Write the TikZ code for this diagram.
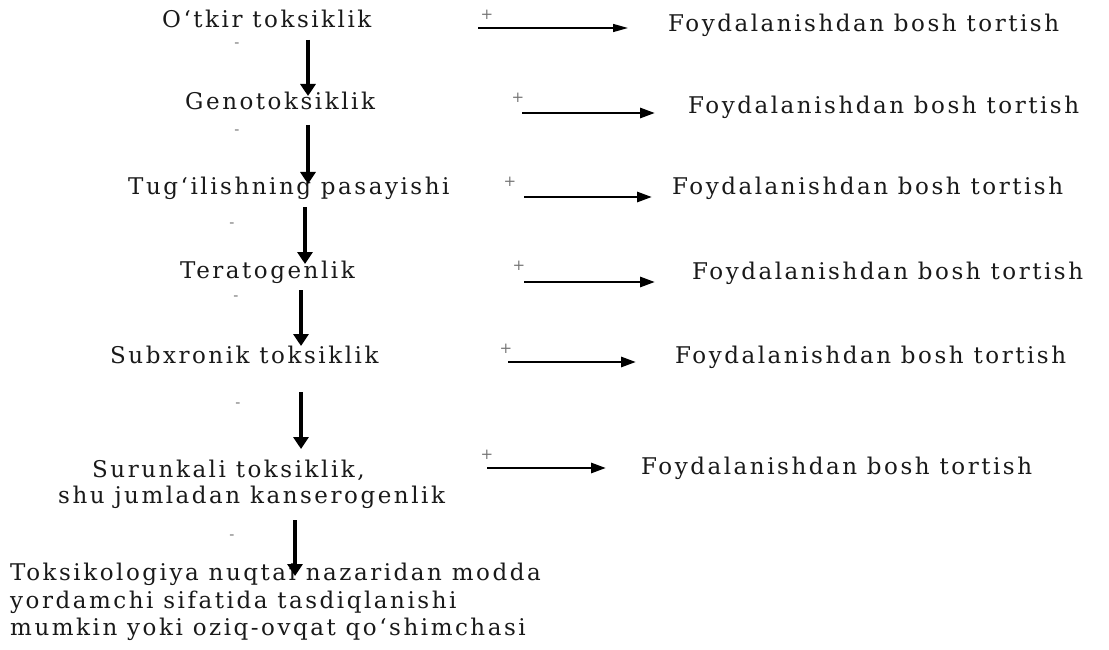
\documentclass[tikz,border=0pt]{standalone}
\usepackage{fontspec}
\setmainfont[LetterSpace=11]{DejaVu Serif}
\usetikzlibrary{arrows.meta}
\begin{document}
\begin{tikzpicture}[x=1pt,y=-1pt,
  lbl/.style={anchor=base west,inner sep=0pt,font=\fontsize{23}{28}\selectfont,text=black!90},
  sgn/.style={inner sep=0pt,font=\fontsize{15}{15}\selectfont,text=black!55},
  down/.style={line width=3.6pt,-{Triangle[length=12pt,width=15pt]}},
  right/.style={line width=2.8pt,-{Triangle[length=15pt,width=10pt]}},
  thin right/.style={line width=1.4pt,-{Triangle[length=15pt,width=8pt]}}]
\useasboundingbox (0,0) rectangle (1109,650);
% left column
\node[lbl] (l1) at (162,28) {O‘tkir toksiklik};
\node[lbl] (l2) at (185,110) {Genotoksiklik};
\node[lbl] (l3) at (128,195) {Tug‘ilishning pasayishi};
\node[lbl] (l4) at (180,278) {Teratogenlik};
\node[lbl] (l5) at (110,363) {Subxronik toksiklik};
\node[lbl] (l6a) at (92,477) {Surunkali toksiklik,};
\node[lbl] (l6b) at (58,503) {shu jumladan kanserogenlik};
\node[lbl] (l7a) at (10,580) {Toksikologiya nuqtai nazaridan modda};
\node[lbl] (l7b) at (10,608) {yordamchi sifatida tasdiqlanishi};
\node[lbl] (l7c) at (10,635) {mumkin yoki oziq-ovqat qo‘shimchasi};
% minus signs
\node[sgn] (m1) at (237,45) {-};
\node[sgn] (m2) at (237,132) {-};
\node[sgn] (m3) at (232,225) {-};
\node[sgn] (m4) at (236,298) {-};
\node[sgn] (m5) at (238,405) {-};
\node[sgn] (m6) at (232,537) {-};
% down arrows
\coordinate (d1s) at (308,40);  \coordinate (d1e) at (308,96);
\coordinate (d2s) at (308,125); \coordinate (d2e) at (308,184);
\coordinate (d3s) at (305,207); \coordinate (d3e) at (305,264);
\coordinate (d4s) at (301,290); \coordinate (d4e) at (301,346);
\coordinate (d5s) at (301,392); \coordinate (d5e) at (301,449);
\coordinate (d6s) at (295,520); \coordinate (d6e) at (295,576);
\draw[down] (d1s) -- (d1e);
\draw[down] (d2s) -- (d2e);
\draw[down] (d3s) -- (d3e);
\draw[down] (d4s) -- (d4e);
\draw[down] (d5s) -- (d5e);
\draw[down] (d6s) -- (d6e);
% right texts
\node[lbl] (r1) at (668,32) {Foydalanishdan bosh tortish};
\node[lbl] (r2) at (688,114) {Foydalanishdan bosh tortish};
\node[lbl] (r3) at (672,195) {Foydalanishdan bosh tortish};
\node[lbl] (r4) at (692,279) {Foydalanishdan bosh tortish};
\node[lbl] (r5) at (675,363) {Foydalanishdan bosh tortish};
\node[lbl] (r6) at (641,474) {Foydalanishdan bosh tortish};
% plus signs
\node[sgn] (p1) at (487,15) {+};
\node[sgn] (p2) at (518,98) {+};
\node[sgn] (p3) at (510,182) {+};
\node[sgn] (p4) at (519,266) {+};
\node[sgn] (p5) at (506,349) {+};
\node[sgn] (p6) at (487,455) {+};
% right arrows
\coordinate (a1s) at (478,28);  \coordinate (a1e) at (628,28);
\coordinate (a2s) at (522,113); \coordinate (a2e) at (655,113);
\coordinate (a3s) at (524,197); \coordinate (a3e) at (652,197);
\coordinate (a4s) at (524,282); \coordinate (a4e) at (655,282);
\coordinate (a5s) at (508,362); \coordinate (a5e) at (636,362);
\coordinate (a6s) at (487,468); \coordinate (a6e) at (606,468);
\draw[thin right] (a1s) -- (a1e);
\draw[right] (a2s) -- (a2e);
\draw[right] (a3s) -- (a3e);
\draw[right] (a4s) -- (a4e);
\draw[right] (a5s) -- (a5e);
\draw[right] (a6s) -- (a6e);
\end{tikzpicture}
\end{document}
